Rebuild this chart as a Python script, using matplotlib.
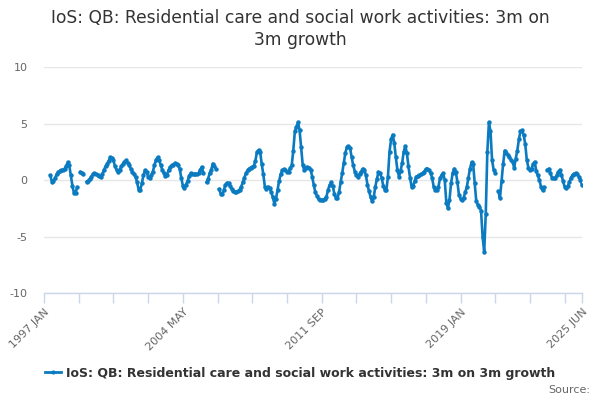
import numpy as np
import matplotlib
matplotlib.use("Agg")
import matplotlib.pyplot as plt
from matplotlib.lines import Line2D

# ---- data -------------------------------------------------------------
series_name = "IoS: QB: Residential care and social work activities: 3m on 3m growth"
first_month_index = 4          # months after 1997 JAN of first value (1997 MAY)
last_month_index = 341         # 2025 JUN
nan = float("nan")

growth = [
    # 1997 MAY - 1998 DEC
    0.4, -0.15, -0.1, 0.15, 0.5, 0.7, 0.8, 0.85,
    0.9, 1.0, 1.2, 1.55, 1.3, 0.4, -0.5, -1.15, -1.15, -0.65, nan, 0.7,
    # 1999
    0.6, 0.5, nan, -0.15, -0.05, 0.1, 0.3, 0.5, 0.6, 0.5, 0.45, 0.35,
    # 2000
    0.3, 0.5, 0.9, 1.2, 1.45, 1.7, 2.0, 1.95, 1.75, 1.2, 0.9, 0.75,
    # 2001
    0.9, 1.2, 1.4, 1.6, 1.75, 1.5, 1.3, 1.0, 0.75, 0.5, 0.3, -0.2,
    # 2002
    -0.85, -0.9, -0.3, 0.4, 0.85, 0.7, 0.3, 0.2, 0.45, 0.75, 1.3, 1.8,
    # 2003
    2.0, 1.75, 1.3, 0.9, 0.6, 0.35, 0.45, 0.9, 1.15, 1.3, 1.35, 1.5,
    # 2004
    1.45, 1.3, 1.0, 0.2, -0.5, -0.75, -0.4, -0.1, 0.35, 0.6, 0.55, 0.5,
    # 2005
    0.55, 0.5, 0.6, 0.9, 1.15, 0.65, nan, -0.2, 0.1, 0.6, 0.9, 1.45,
    # 2006
    1.2, 1.0, nan, -0.8, -1.2, -1.25, -0.9, -0.4, -0.25, -0.3, -0.55, -0.8,
    # 2007
    -0.95, -1.05, -1.05, -1.0, -0.85, -0.6, -0.2, 0.2, 0.6, 0.85, 1.0, 1.1,
    # 2008
    1.15, 1.25, 1.7, 2.5, 2.65, 2.5, 1.4, 0.5, -0.6, -0.8, -0.6, -0.75,
    # 2009
    -1.05, -1.5, -2.1, -1.7, -0.9, -0.1, 0.5, 0.85, 0.95, 0.9, 0.75, 0.75,
    # 2010
    1.05, 1.3, 2.6, 4.3, 4.7, 5.1, 4.4, 2.9, 1.3, 0.9, 1.1, 1.15,
    # 2011
    1.1, 0.9, 0.3, -0.45, -1.1, -1.4, -1.7, -1.8, -1.8, -1.75, -1.65, -1.5,
    # 2012
    -0.9, -0.45, -0.2, -0.5, -1.2, -1.55, -1.6, -1.1, -0.2, 0.6, 1.5, 2.4,
    # 2013
    2.9, 3.0, 2.85, 2.0, 1.3, 0.75, 0.45, 0.3, 0.55, 0.75, 1.0, 0.9,
    # 2014
    0.45, -0.4, -1.0, -1.5, -1.9, -1.5, -0.6, 0.1, 0.7, 0.6, 0.2, -0.5,
    # 2015
    -0.85, -0.9, 0.3, 2.5, 3.6, 4.0, 3.3, 2.0, 0.9, 0.3, 0.8, 1.5,
    # 2016
    2.5, 3.0, 2.4, 1.2, 0.2, -0.6, -0.5, -0.1, 0.3, 0.35, 0.45, 0.5,
    # 2017
    0.6, 0.75, 0.95, 1.0, 0.9, 0.6, 0.2, -0.6, -0.85, -0.85, -0.6, 0.15,
    # 2018
    0.45, 0.6, 0.0, -2.0, -2.5, -1.75, -0.3, 0.6, 1.0, 0.75, -0.15, -1.3,
    # 2019
    -1.65, -1.75, -1.55, -1.1, -0.6, 0.2, 1.0, 1.55, 1.45, -0.3, -1.9, -2.2,
    # 2020
    -2.35, -2.7, -5.0, -6.35, -3.0, 2.5, 5.1, 4.3, 1.75, 0.9, 0.65, nan,
    # 2021
    -1.0, -1.6, -0.1, 1.4, 2.6, 2.4, 2.2, 2.0, 1.8, 1.6, 1.1, 1.9,
    # 2022
    2.6, 3.6, 4.3, 4.4, 4.0, 3.2, 1.8, 1.1, 0.9, 1.0, 1.4, 1.6,
    # 2023
    0.8, 0.4, 0.0, -0.6, -0.9, -0.65, nan, 0.9, 1.0, 0.6, 0.2, 0.15,
    # 2024
    0.15, 0.4, 0.7, 0.9, 0.45, -0.1, -0.6, -0.7, -0.55, -0.2, 0.2, 0.45,
    # 2025 JAN - JUN
    0.55, 0.6, 0.5, 0.3, 0.0, -0.45,
]

tick_label_text = ["1997 JAN", "2004 MAY", "2011 SEP", "2019 JAN", "2025 JUN"]
tick_label_months = [0, 88, 176, 264, 341]
minor_tick_step = 22
y_ticks = [-10, -5, 0, 5, 10]

# ---- figure ---------------------------------------------------------
line_color = "#0b7bc1"
W, H = 600, 400
fig = plt.figure(figsize=(6, 4), dpi=100)
ax = fig.add_axes([44 / W, 1 - 293 / H, (582 - 44) / W, (293 - 67) / H])

months = np.arange(len(growth)) + first_month_index
ax.plot(months, growth, color=line_color, lw=1.9, marker="o", ms=3.2,
        markeredgewidth=0, zorder=3, solid_joinstyle="round")

ax.set_xlim(0, last_month_index)
ax.set_ylim(-10, 10)

ax.set_yticks(y_ticks)
ax.set_yticklabels([str(v) for v in y_ticks])
ax.grid(axis="y", color="#e6e6e6", lw=1, zorder=0)
ax.tick_params(axis="y", length=0, pad=12, labelsize=8, labelcolor="#666666")

xt = list(range(0, last_month_index + 1, minor_tick_step))
if xt[-1] != last_month_index:
    xt.append(last_month_index)
labels = []
for t in xt:
    if t in tick_label_months:
        labels.append(tick_label_text[tick_label_months.index(t)])
    else:
        labels.append("")
ax.set_xticks(xt)
ax.set_xticklabels(labels, rotation=45, ha="right", va="top",
                   rotation_mode="anchor")
ax.tick_params(axis="x", length=7, width=1, color="#ccd6eb", pad=3,
               labelsize=8, labelcolor="#666666")

for s in ("top", "right", "left"):
    ax.spines[s].set_visible(False)
ax.spines["bottom"].set_color("#ccd6eb")
ax.spines["bottom"].set_linewidth(1)

fig.text(0.5, 1 - 9 / H,
         "IoS: QB: Residential care and social work activities: 3m on\n3m growth",
         ha="center", va="top", fontsize=12.3, color="#333333", linespacing=1.3)

handle = Line2D([], [], color=line_color, lw=2, marker="o", ms=3,
                markeredgewidth=0)
fig.legend([handle], [series_name], loc="center",
           bbox_to_anchor=(0.5, 1 - 373 / H), frameon=False,
           prop={"weight": "bold", "size": 9}, labelcolor="#333333",
           handlelength=1.3, handletextpad=0.4)

fig.text(590 / W, 1 - 390 / H, "Source:", ha="right", va="center",
         fontsize=8, color="#666666")

fig.savefig("out.png", dpi=100)
